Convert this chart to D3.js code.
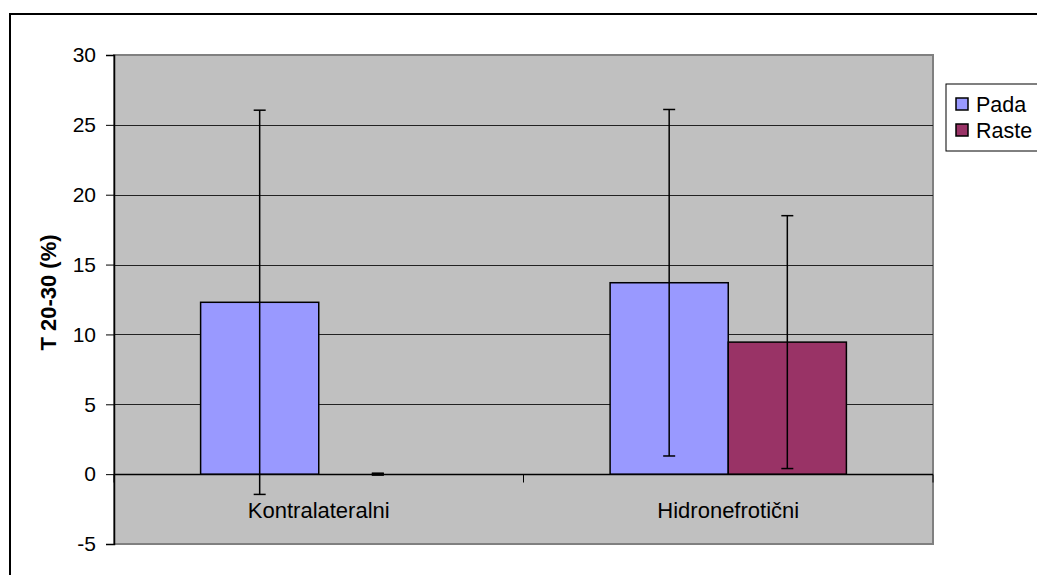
<!DOCTYPE html>
<html>
<head>
<meta charset="utf-8">
<script src="https://cdn.jsdelivr.net/npm/d3@7"></script>
<style>
  body { margin: 0; background: #ffffff; overflow: hidden; }
  text { font-family: "Liberation Sans", Arial, sans-serif; fill: #000; }
</style>
</head>
<body>
<div id="chart"></div>
<script>
// chart values
var categories = ["Kontralateralni", "Hidronefrotični"];
var series = ["Pada", "Raste"];
var padaValues = [12.3, 13.7];
var padaErrors = [13.75, 12.4];
var rasteValues = [0, 9.45];
var rasteErrors = [0, 9.05];
var yTicks = [-5, 0, 5, 10, 15, 20, 25, 30];
var seriesColors = ["#9999FF", "#993366"];

var svgWidth = 1037;
var svgHeight = 575;

// plot area inside the chart frame
var plot = { left: 114, top: 55, right: 933, bottom: 544 };

var svg = d3.select("#chart")
  .append("svg")
  .attr("width", svgWidth)
  .attr("height", svgHeight);

// outer chart frame (runs off the right and bottom edge)
svg.append("rect")
  .attr("x", 10)
  .attr("y", 14)
  .attr("width", 1060)
  .attr("height", 600)
  .attr("fill", "#ffffff")
  .attr("stroke", "#000")
  .attr("stroke-width", 2);

var yScale = d3.scaleLinear()
  .domain([-5, 30])
  .range([plot.bottom, plot.top]);

var x0 = d3.scaleBand()
  .domain(categories)
  .range([plot.left, plot.right])
  .padding(0);

var groupWidth = x0.bandwidth() * 0.577;
var x1 = d3.scaleBand()
  .domain(series)
  .range([(x0.bandwidth() - groupWidth) / 2, (x0.bandwidth() + groupWidth) / 2])
  .padding(0);

// grey plot background
svg.append("rect")
  .attr("x", plot.left)
  .attr("y", plot.top)
  .attr("width", plot.right - plot.left)
  .attr("height", plot.bottom - plot.top)
  .attr("fill", "#C0C0C0")
  .attr("stroke", "#808080")
  .attr("stroke-width", 2);

// horizontal gridlines
svg.append("g")
  .selectAll("line")
  .data(yTicks.filter(d => d > -5))
  .enter()
  .append("line")
  .attr("x1", plot.left)
  .attr("x2", plot.right)
  .attr("y1", d => Math.round(yScale(d)) + 0.5)
  .attr("y2", d => Math.round(yScale(d)) + 0.5)
  .attr("stroke", d => d == 30 ? "#808080" : "#222")
  .attr("stroke-width", 1);

// y axis, plain hyphen for the minus sign
var leftAxis = d3.axisLeft(yScale)
  .tickValues(yTicks)
  .tickFormat(d => String(d))
  .tickSize(8)
  .tickPadding(10);

var yAxisG = svg.append("g")
  .attr("transform", `translate(${plot.left}, 0)`)
  .call(leftAxis);
yAxisG.selectAll("text").attr("font-size", "21px").attr("font-family", "Liberation Sans, Arial, sans-serif");
yAxisG.select(".domain").attr("stroke", "#000").attr("stroke-width", 1.5);
yAxisG.selectAll(".tick line").attr("stroke", "#000");

// category axis crossing at zero
var zeroY = Math.round(yScale(0)) + 0.5;
svg.append("line")
  .attr("x1", plot.left)
  .attr("x2", plot.right)
  .attr("y1", zeroY)
  .attr("y2", zeroY)
  .attr("stroke", "#000")
  .attr("stroke-width", 1.5);

var catTicks = [plot.left].concat(categories.map(c => x0(c) + x0.bandwidth()));
svg.append("g")
  .selectAll("line")
  .data(catTicks)
  .enter()
  .append("line")
  .attr("x1", d => d)
  .attr("x2", d => d)
  .attr("y1", zeroY)
  .attr("y2", zeroY + 8)
  .attr("stroke", "#000");

// bars
var barData = [];
categories.forEach(function(c, i) {
  barData.push({ cat: c, s: "Pada", value: padaValues[i], err: padaErrors[i], color: seriesColors[0] });
  barData.push({ cat: c, s: "Raste", value: rasteValues[i], err: rasteErrors[i], color: seriesColors[1] });
});

svg.append("g")
  .selectAll("rect")
  .data(barData.filter(d => d.value > 0))
  .enter()
  .append("rect")
  .attr("x", d => x0(d.cat) + x1(d.s))
  .attr("y", d => yScale(d.value))
  .attr("width", x1.bandwidth())
  .attr("height", d => yScale(0) - yScale(d.value))
  .attr("fill", d => d.color)
  .attr("stroke", "#000")
  .attr("stroke-width", 1.5);

// error bars
var errG = svg.append("g")
  .selectAll("g")
  .data(barData)
  .enter()
  .append("g")
  .attr("transform", d => `translate(${x0(d.cat) + x1(d.s) + x1.bandwidth() / 2}, 0)`);

errG.append("line")
  .attr("y1", d => yScale(d.value + d.err))
  .attr("y2", d => yScale(d.value - d.err))
  .attr("stroke", "#000")
  .attr("stroke-width", 1.5);

errG.append("line")
  .attr("x1", -6).attr("x2", 6)
  .attr("y1", d => yScale(d.value + d.err))
  .attr("y2", d => yScale(d.value + d.err))
  .attr("stroke", "#000")
  .attr("stroke-width", d => d.err == 0 ? 3 : 1.5);

errG.append("line")
  .attr("x1", -6).attr("x2", 6)
  .attr("y1", d => yScale(d.value - d.err))
  .attr("y2", d => yScale(d.value - d.err))
  .attr("stroke", "#000")
  .attr("stroke-width", d => d.err == 0 ? 3 : 1.5);

// category labels
svg.append("g")
  .selectAll("text")
  .data(categories)
  .enter()
  .append("text")
  .attr("x", d => x0(d) + x0.bandwidth() / 2)
  .attr("y", yScale(0) + 36)
  .attr("dy", "0.35em")
  .attr("text-anchor", "middle")
  .attr("font-size", "22px")
  .text(d => d);

// y axis title
svg.append("text")
  .attr("transform", `translate(48, ${(plot.top + plot.bottom) / 2 - 7}) rotate(-90)`)
  .attr("dy", "0.35em")
  .attr("text-anchor", "middle")
  .attr("font-size", "22px")
  .attr("font-weight", "bold")
  .text("T 20-30 (%)");

// legend
var legend = svg.append("g")
  .attr("transform", "translate(946, 84)");

legend.append("rect")
  .attr("x", 0)
  .attr("y", 0)
  .attr("width", 120)
  .attr("height", 67)
  .attr("fill", "#fff")
  .attr("stroke", "#000")
  .attr("stroke-width", 1);

var legendItems = legend.selectAll(".item")
  .data(series)
  .enter()
  .append("g")
  .attr("class", "item")
  .attr("transform", (d, i) => `translate(10, ${20 + i * 26})`);

legendItems.append("rect")
  .attr("x", 0)
  .attr("y", -6)
  .attr("width", 12)
  .attr("height", 12)
  .attr("fill", (d, i) => seriesColors[i])
  .attr("stroke", "#000")
  .attr("stroke-width", 1.5);

legendItems.append("text")
  .attr("x", 20)
  .attr("y", 0)
  .attr("dy", "0.35em")
  .attr("font-size", "21.5px")
  .text(d => d);
</script>
</body>
</html>
